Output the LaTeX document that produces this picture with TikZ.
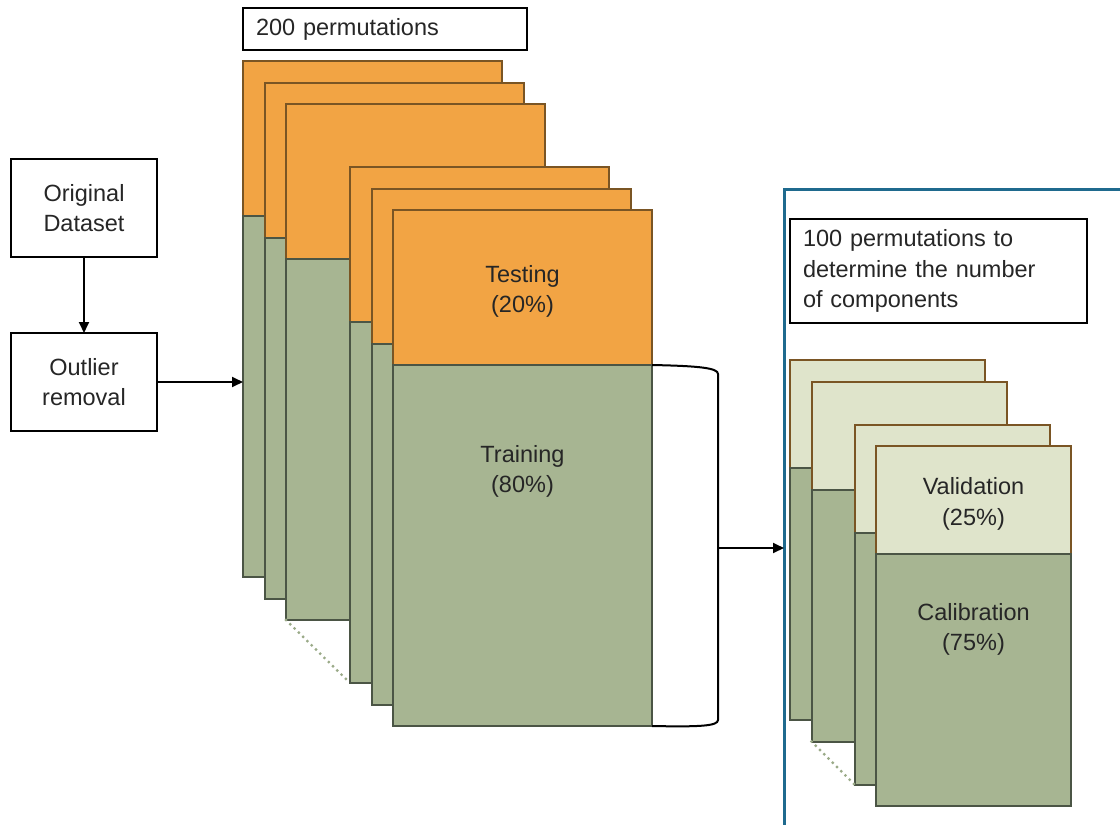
\documentclass[tikz,border=0pt]{standalone}
\usepackage{fontspec}
\setmainfont{Liberation Sans}
\usetikzlibrary{arrows.meta}
\definecolor{orng}{HTML}{F2A444}
\definecolor{orngline}{HTML}{7A5524}
\definecolor{grn}{HTML}{A7B592}
\definecolor{grnline}{HTML}{4B5545}
\definecolor{lgrn}{HTML}{DFE4CB}
\definecolor{frameblue}{HTML}{1F6A8E}
\definecolor{txt}{HTML}{262626}
\definecolor{dotgrn}{HTML}{9AAA88}
\begin{document}
\begin{tikzpicture}[x=1pt,y=-1pt,
  font=\fontsize{23.5}{30.5}\selectfont, text=txt,
  box/.style={draw=black, line width=2pt, fill=white, inner sep=0pt, outer sep=0pt, align=center},
  lbox/.style={draw=black, line width=2pt, fill=white, inner ysep=0pt, inner xsep=13pt, outer sep=0pt, align=left, anchor=north west},
  topbig/.style={draw=orngline, fill=orng, line width=2pt, inner sep=0pt, outer sep=0pt, anchor=north west, minimum width=259pt, minimum height=155pt},
  botbig/.style={draw=grnline, fill=grn, line width=2pt, inner sep=0pt, outer sep=0pt, anchor=north west, minimum width=259pt, minimum height=361pt},
  topsm/.style={draw=orngline, fill=lgrn, line width=2pt, inner sep=0pt, outer sep=0pt, anchor=north west, minimum width=195pt, minimum height=108pt},
  botsm/.style={draw=grnline, fill=grn, line width=2pt, inner sep=0pt, outer sep=0pt, anchor=north west, minimum width=195pt, minimum height=252pt},
  lbl/.style={align=center, inner sep=0pt},
  arr/.style={line width=1.8pt, -{Triangle[length=11pt,width=10pt]}},
  dots/.style={draw=dotgrn, line width=3.2pt, line cap=round, dash pattern=on 0pt off 6pt},
]
\useasboundingbox (0,0) rectangle (1120,825);

% left boxes
\node[box, minimum width=146pt, minimum height=98pt] (orig) at (84,208) {Original\\Dataset};
\node[box, minimum width=146pt, minimum height=98pt] (out) at (84,382) {Outlier\\removal};

% header box
\node[lbox, text width=258pt, minimum height=42pt] (h200) at (243,8) {\raisebox{-3pt}{200 permutations}};

% big stack
\node[topbig] (o1) at (243,61) {};
\node[botbig] (g1) at (o1.south west) {};
\node[topbig] (o2) at (264.5,82.5) {};
\node[botbig] (g2) at (o2.south west) {};
\node[topbig] (o3) at (286,104) {};
\node[botbig] (g3) at (o3.south west) {};
\node[topbig] (o4) at (350,167) {};
\node[botbig] (g4) at (o4.south west) {};
\node[topbig] (o5) at (371.5,188.5) {};
\node[botbig] (g5) at (o5.south west) {};
\node[topbig] (o6) at (393,210) {};
\node[botbig] (g6) at (o6.south west) {};
\node[lbl] (test) at ([yshift=-4pt]o6.center) {Testing\\(20\%)};
\node[lbl, anchor=north] (train) at ([yshift=-80pt]g6.north) {Training\\(80\%)};
\draw[dots] (g3.south west) -- (g4.south west);

% arrows left
\draw[arr] (orig.south) -- (out.north);
\draw[arr] (out.east) -- (out.east -| g1.west);

% frame
\node[draw=frameblue, line width=3pt, inner sep=0pt, outer sep=0pt, anchor=north west, minimum width=360pt, minimum height=660pt] (frame) at (784,189) {};

% bracket
\draw[line width=2pt] (g6.north east) .. controls (700,366) and (718,368) .. (718,374) -- (718,720) .. controls (718,726) and (700,727) .. (g6.south east);
\coordinate (bm) at (718,548);
\draw[arr] (bm) -- (bm -| frame.west);

% header 100
\node[lbox, text width=271pt, minimum height=104pt] (h100) at (790,219) {\raisebox{-3pt}{\parbox{271pt}{100 permutations to\\determine the number\\of components}}};

% small stack
\node[topsm] (v1) at (790,360) {};
\node[botsm] (c1) at (v1.south west) {};
\node[topsm] (v2) at (811.5,381.5) {};
\node[botsm] (c2) at (v2.south west) {};
\node[topsm] (v3) at (854.5,424.5) {};
\node[botsm] (c3) at (v3.south west) {};
\node[topsm] (v4) at (876,446) {};
\node[botsm] (c4) at (v4.south west) {};
\node[lbl] (val) at ([yshift=-4pt]v4.center) {Validation\\(25\%)};
\node[lbl, anchor=north] (cal) at ([yshift=-49pt]c4.north) {Calibration\\(75\%)};
\draw[dots] (c2.south west) -- (c3.south west);
\end{tikzpicture}
\end{document}
